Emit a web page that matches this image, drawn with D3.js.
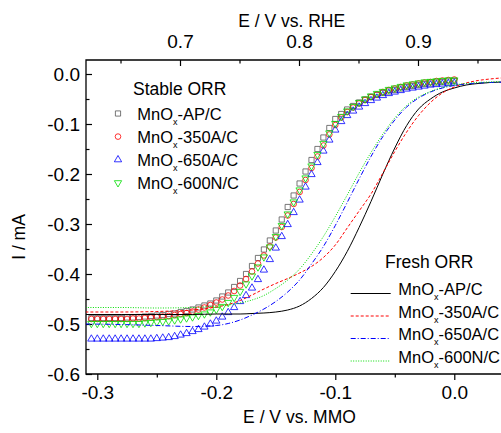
<!DOCTYPE html>
<html>
<head>
<meta charset="utf-8">
<script src="https://cdn.jsdelivr.net/npm/d3@7"></script>
<style>
body { margin: 0; background: #fff; }
svg { display: block; font-family: "Liberation Sans", Arial, sans-serif; }
</style>
</head>
<body>
<script>
// stable ORR, symbols (E vs. MMO in V, I in mA)
var stableE = [-0.305,-0.300,-0.295,-0.290,-0.285,-0.280,-0.275,-0.270,-0.265,-0.260,
    -0.255,-0.250,-0.245,-0.240,-0.235,-0.230,-0.225,-0.220,-0.215,-0.210,
    -0.205,-0.200,-0.195,-0.190,-0.185,-0.180,-0.175,-0.170,-0.165,-0.160,
    -0.155,-0.150,-0.145,-0.140,-0.135,-0.130,-0.125,-0.120,-0.115,-0.110,
    -0.105,-0.100,-0.095,-0.090,-0.085,-0.080,-0.075,-0.070,-0.065,-0.060,
    -0.055,-0.050,-0.045,-0.040,-0.035,-0.030,-0.025,-0.020,-0.015,-0.010,
    -0.005,0.000];
var stableAP = [-0.488,-0.488,-0.488,-0.488,-0.488,-0.488,-0.487,-0.487,-0.486,-0.485,
    -0.484,-0.483,-0.482,-0.480,-0.479,-0.476,-0.474,-0.471,-0.467,-0.463,
    -0.459,-0.453,-0.445,-0.437,-0.426,-0.414,-0.400,-0.384,-0.368,-0.351,
    -0.333,-0.313,-0.291,-0.266,-0.243,-0.219,-0.195,-0.172,-0.150,-0.127,
    -0.108,-0.090,-0.080,-0.071,-0.064,-0.057,-0.051,-0.046,-0.042,-0.038,
    -0.035,-0.032,-0.029,-0.026,-0.024,-0.022,-0.020,-0.019,-0.017,-0.016,
    -0.015,-0.014];
var stable350A = [-0.490,-0.490,-0.490,-0.490,-0.490,-0.490,-0.490,-0.489,-0.489,-0.488,
    -0.487,-0.486,-0.485,-0.484,-0.482,-0.480,-0.478,-0.475,-0.471,-0.467,
    -0.462,-0.457,-0.451,-0.443,-0.434,-0.423,-0.410,-0.395,-0.379,-0.363,
    -0.345,-0.327,-0.306,-0.283,-0.260,-0.236,-0.212,-0.188,-0.165,-0.143,
    -0.121,-0.102,-0.087,-0.076,-0.067,-0.059,-0.052,-0.046,-0.041,-0.036,
    -0.032,-0.029,-0.026,-0.023,-0.021,-0.019,-0.017,-0.016,-0.014,-0.013,
    -0.012,-0.011];
var stable650A = [-0.530,-0.530,-0.530,-0.530,-0.530,-0.530,-0.530,-0.530,-0.530,-0.530,
    -0.530,-0.529,-0.528,-0.527,-0.525,-0.522,-0.519,-0.515,-0.511,-0.506,
    -0.500,-0.494,-0.486,-0.477,-0.467,-0.455,-0.443,-0.428,-0.411,-0.392,
    -0.371,-0.348,-0.325,-0.301,-0.277,-0.252,-0.226,-0.201,-0.177,-0.154,
    -0.132,-0.112,-0.095,-0.083,-0.074,-0.066,-0.059,-0.053,-0.048,-0.043,
    -0.039,-0.036,-0.033,-0.030,-0.028,-0.026,-0.024,-0.022,-0.021,-0.020,
    -0.019,-0.018];
var stable600N = [-0.499,-0.499,-0.499,-0.499,-0.499,-0.499,-0.499,-0.499,-0.499,-0.498,
    -0.497,-0.496,-0.495,-0.494,-0.492,-0.490,-0.488,-0.486,-0.483,-0.480,
    -0.476,-0.471,-0.465,-0.457,-0.447,-0.435,-0.420,-0.404,-0.386,-0.366,
    -0.346,-0.325,-0.303,-0.280,-0.256,-0.232,-0.208,-0.184,-0.161,-0.139,
    -0.118,-0.099,-0.085,-0.074,-0.065,-0.057,-0.050,-0.044,-0.039,-0.035,
    -0.031,-0.028,-0.025,-0.022,-0.020,-0.018,-0.016,-0.015,-0.014,-0.013,
    -0.012,-0.012];

// fresh ORR, lines
var freshE = [-0.31,-0.28,-0.25,-0.22,-0.20,-0.19,-0.18,-0.17,-0.16,-0.15,
    -0.14,-0.13,-0.12,-0.11,-0.10,-0.09,-0.08,-0.07,-0.06,-0.05,
    -0.04,-0.03,-0.02,-0.01,0.00,0.01,0.02,0.03,0.045];
var freshAP = [-0.481,-0.481,-0.481,-0.481,-0.480,-0.480,-0.480,-0.479,-0.478,-0.476,
    -0.472,-0.464,-0.449,-0.427,-0.395,-0.355,-0.307,-0.255,-0.200,-0.148,
    -0.103,-0.070,-0.050,-0.036,-0.028,-0.022,-0.019,-0.017,-0.016];
var fresh350A = [-0.476,-0.476,-0.475,-0.472,-0.466,-0.461,-0.453,-0.442,-0.430,-0.419,
    -0.409,-0.398,-0.385,-0.367,-0.342,-0.308,-0.274,-0.240,-0.198,-0.155,
    -0.116,-0.083,-0.057,-0.038,-0.026,-0.018,-0.013,-0.010,-0.007];
var fresh650A = [-0.500,-0.501,-0.503,-0.505,-0.503,-0.499,-0.492,-0.482,-0.470,-0.455,
    -0.436,-0.412,-0.380,-0.345,-0.303,-0.257,-0.210,-0.165,-0.125,-0.092,
    -0.066,-0.048,-0.036,-0.028,-0.023,-0.020,-0.018,-0.017,-0.016];
var fresh600N = [-0.467,-0.467,-0.468,-0.467,-0.464,-0.462,-0.458,-0.452,-0.443,-0.429,
    -0.412,-0.390,-0.360,-0.325,-0.285,-0.242,-0.198,-0.157,-0.120,-0.088,
    -0.063,-0.046,-0.035,-0.027,-0.022,-0.019,-0.017,-0.016,-0.015];

var sampleNames = ["-AP/C", "-350A/C", "-650A/C", "-600N/C"];
var mmoTicks = [-0.3, -0.2, -0.1, 0.0];
var mmoMinor = [-0.25, -0.15, -0.05];
var rheTicks = [0.7, 0.8, 0.9];
var rheMinor = [0.65, 0.75, 0.85, 0.95];
var currentTicks = [0.0, -0.1, -0.2, -0.3, -0.4, -0.5, -0.6];
var currentMinor = [-0.05, -0.15, -0.25, -0.35, -0.45, -0.55];
var rheOffset = 0.9305;

var width = 501, height = 433;
var plot = {left: 86, top: 60, right: 507, bottom: 374};
var colors = ["#555555", "#ff0000", "#0000ff", "#00dd00"];

var svg = d3.select("body").append("svg")
    .attr("width", width)
    .attr("height", height);

var xscale = d3.scaleLinear().domain([-0.3095, 0.0443]).range([plot.left, plot.right]);
var xtop = d3.scaleLinear()
    .domain(xscale.domain().map(function(v) { return v + rheOffset; }))
    .range([plot.left, plot.right]);
var yscale = d3.scaleLinear().domain([-0.6, 0.028]).range([plot.bottom, plot.top]);

svg.append("clipPath").attr("id", "clip")
    .append("rect")
    .attr("x", plot.left).attr("y", plot.top)
    .attr("width", plot.right - plot.left).attr("height", plot.bottom - plot.top);

var fmt = function(d) { return d.toFixed(1); };

function styleAxis(g, size) {
    g.select(".domain").remove();
    g.selectAll("line").attr("stroke", "#000").attr("stroke-width", 1.2);
    g.selectAll("text").attr("fill", "#000").style("font-size", size + "px")
        .style("font-family", '"Liberation Sans", Arial, sans-serif');
}

// left axis, ticks inside
svg.append("g").attr("transform", "translate(" + plot.left + ",0)")
    .call(d3.axisLeft(yscale).tickValues(currentTicks).tickSize(-6).tickPadding(6).tickFormat(fmt))
    .call(styleAxis, 19);
svg.append("g").attr("transform", "translate(" + plot.left + ",0)")
    .call(d3.axisLeft(yscale).tickValues(currentMinor).tickSize(-3.5).tickFormat(""))
    .call(styleAxis, 19);

// bottom axis, ticks outside
svg.append("g").attr("transform", "translate(0," + plot.bottom + ")")
    .call(d3.axisBottom(xscale).tickValues(mmoTicks).tickSize(6).tickPadding(6).tickFormat(fmt))
    .call(styleAxis, 19);
svg.append("g").attr("transform", "translate(0," + plot.bottom + ")")
    .call(d3.axisBottom(xscale).tickValues(mmoMinor).tickSize(3.5).tickFormat(""))
    .call(styleAxis, 19);

// top axis (RHE), ticks inside
svg.append("g").attr("transform", "translate(0," + plot.top + ")")
    .call(d3.axisTop(xtop).tickValues(rheTicks).tickSize(-6).tickPadding(11.7).tickFormat(fmt))
    .call(styleAxis, 19);
svg.append("g").attr("transform", "translate(0," + plot.top + ")")
    .call(d3.axisTop(xtop).tickValues(rheMinor).tickSize(-3.5).tickFormat(""))
    .call(styleAxis, 19);

// frame
svg.append("path")
    .attr("d", "M" + plot.right + "," + plot.top + "H" + plot.left + "V" + plot.bottom + "H" + plot.right)
    .attr("fill", "none")
    .attr("stroke", "#000")
    .attr("stroke-width", 1.3);

// axis titles
svg.append("text").attr("x", 299.5).attr("y", 423.3)
    .attr("text-anchor", "middle").style("font-size", "17.5px")
    .text("E / V vs. MMO");
svg.append("text").attr("x", 291.7).attr("y", 26.7)
    .attr("text-anchor", "middle").style("font-size", "17.5px")
    .text("E / V vs. RHE");
svg.append("text").attr("transform", "translate(25,237) rotate(-90)")
    .attr("text-anchor", "middle").style("font-size", "17.5px")
    .text("I / mA");

var data = svg.append("g").attr("clip-path", "url(#clip)");

// stable ORR symbols
var symbolTypes = [d3.symbolSquare, d3.symbolCircle, d3.symbolTriangle, d3.symbolTriangle];
var symbolSizes = [27, 25, 23, 23];
var symbolRot = [0, 0, 0, 180];
var stableSeries = [stableAP, stable350A, stable650A, stable600N];

stableSeries.forEach(function(vals, k) {
    var sym = d3.symbol().type(symbolTypes[k]).size(symbolSizes[k]);
    data.append("g").selectAll("path")
        .data(stableE.map(function(e, j) { return {e: e, i: vals[j]}; }))
        .enter().append("path")
        .attr("d", sym)
        .attr("transform", function(d) {
            return "translate(" + xscale(d.e) + "," + yscale(d.i) + ") rotate(" + symbolRot[k] + ")";
        })
        .attr("fill", "none")
        .attr("stroke", colors[k])
        .attr("stroke-width", 0.8);
});

// fresh ORR lines
var dashes = [null, "3,2", "5,2,1,2", "1,1.5"];
var freshSeries = [freshAP, fresh350A, fresh650A, fresh600N];
var freshColors = ["#000000", "#ff0000", "#0000ff", "#00dd00"];

var valueline = d3.line()
    .x(function(d) { return xscale(d.e); })
    .y(function(d) { return yscale(d.i); })
    .curve(d3.curveMonotoneX);

freshSeries.forEach(function(vals, k) {
    data.append("path")
        .datum(freshE.map(function(e, j) { return {e: e, i: vals[j]}; }))
        .attr("fill", "none")
        .attr("stroke", freshColors[k])
        .attr("stroke-width", 1)
        .attr("stroke-dasharray", dashes[k])
        .attr("d", valueline);
});

function sampleLabel(sel, x, y, name) {
    var t = sel.append("text").attr("x", x).attr("y", y).style("font-size", "16.5px");
    t.append("tspan").text("MnO");
    t.append("tspan").attr("dy", 5).style("font-size", "9px").text("x");
    t.append("tspan").attr("dy", -5).text(name);
}

// stable legend
var leg1 = svg.append("g");
leg1.append("text").attr("x", 133).attr("y", 95).style("font-size", "17.5px").text("Stable ORR");
sampleNames.forEach(function(name, k) {
    var by = 120 + k * 23.1;
    leg1.append("path")
        .attr("d", d3.symbol().type(symbolTypes[k]).size(symbolSizes[k]))
        .attr("transform", "translate(118," + (by - 6.5) + ") rotate(" + symbolRot[k] + ")")
        .attr("fill", "none")
        .attr("stroke", colors[k])
        .attr("stroke-width", 0.8);
    sampleLabel(leg1, 137.3, by, name);
});

// fresh legend
var leg2 = svg.append("g");
leg2.append("text").attr("x", 385).attr("y", 268.3).style("font-size", "17.5px").text("Fresh ORR");
sampleNames.forEach(function(name, k) {
    var by = 295 + k * 22.5;
    leg2.append("line")
        .attr("x1", 350.7).attr("x2", 390.7)
        .attr("y1", by - 1.5).attr("y2", by - 1.5)
        .attr("stroke", freshColors[k])
        .attr("stroke-width", 1)
        .attr("stroke-dasharray", dashes[k]);
    sampleLabel(leg2, 398.3, by, name);
});
</script>
</body>
</html>
